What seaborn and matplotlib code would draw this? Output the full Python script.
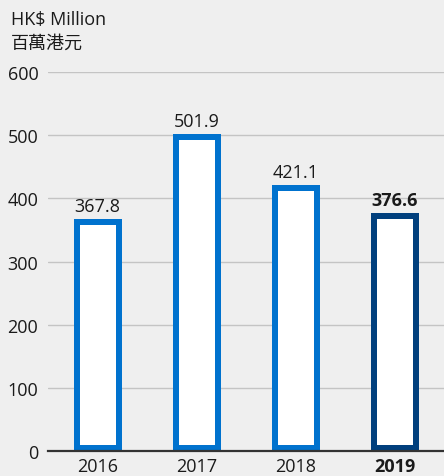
import numpy as np
import pandas as pd
import matplotlib
matplotlib.use('Agg')
import matplotlib.pyplot as plt
import seaborn as sns

## Data
YEARS = ['2016', '2017', '2018', '2019']
VALUES = [367.8, 501.9, 421.1, 376.6]
UNIT_EN = 'HK$ Million'
UNIT_ZH = '百萬港元'

## Style
BLUE = '#0072CE'
NAVY = '#003F7D'
BG = '#efefef'
TEXT = '#1a1a1a'
EDGE_PX = 6
FS = 13

sns.set_theme(style='white')
plt.rcParams['font.family'] = ['Open Sans', 'Noto Sans CJK TC', 'DejaVu Sans']

df = pd.DataFrame({'year': YEARS, 'value': VALUES})

fig = plt.figure(figsize=(4.44, 4.77), dpi=100, facecolor=BG)
ax = fig.add_axes([48 / 444, 25 / 477, 396 / 444, 379 / 477])
ax.set_facecolor('none')

# edge inset so outline sits inside the value height
px_per_unit = 379 / 600
pad = (EDGE_PX / 2) / px_per_unit
colors = [BLUE, BLUE, BLUE, NAVY]
sns.barplot(data=df, x='year', y='value', ax=ax, width=0.0, color='white')
for p in list(ax.patches):
    p.remove()
for i, (yr, v) in enumerate(zip(YEARS, VALUES)):
    ax.bar(i, v - 2 * pad, bottom=pad, width=(48 - EDGE_PX) / 99,
           color='white', edgecolor=colors[i], linewidth=EDGE_PX * 72 / 100, zorder=3)
    ax.text(i, v + 6, '{:.1f}'.format(v), ha='center', va='bottom', fontsize=FS,
            color=TEXT, fontweight='bold' if yr == '2019' else 'normal')

ax.set_xlim(-0.5, 3.5)
ax.set_ylim(0, 600)
ax.set_yticks(np.arange(0, 601, 100))
ax.yaxis.grid(True, color='#c4c4c4', linewidth=1)
ax.set_axisbelow(True)
for s in ['top', 'right', 'left']:
    ax.spines[s].set_visible(False)
ax.spines['bottom'].set_color('#333333')
ax.spines['bottom'].set_linewidth(1.6)
ax.spines['bottom'].set_zorder(4)
ax.tick_params(axis='y', length=0, pad=7, labelsize=FS, labelcolor=TEXT)
ax.tick_params(axis='x', length=0, pad=4.5, labelsize=FS, labelcolor=TEXT)
ax.set_xlabel('')
ax.set_ylabel('')
ax.set_xticks(range(len(YEARS)))
ax.set_xticklabels(YEARS)
ax.get_xticklabels()[-1].set_fontweight('bold')

fig.text(11 / 444, 1 - 20 / 477, UNIT_EN, fontsize=FS, color=TEXT, va='center')
fig.text(11 / 444, 1 - 44 / 477, UNIT_ZH, fontsize=FS, color=TEXT, va='center',
         family=['Noto Sans CJK TC', 'DejaVu Sans'])

fig.savefig('out.png', dpi=100, facecolor=BG)
